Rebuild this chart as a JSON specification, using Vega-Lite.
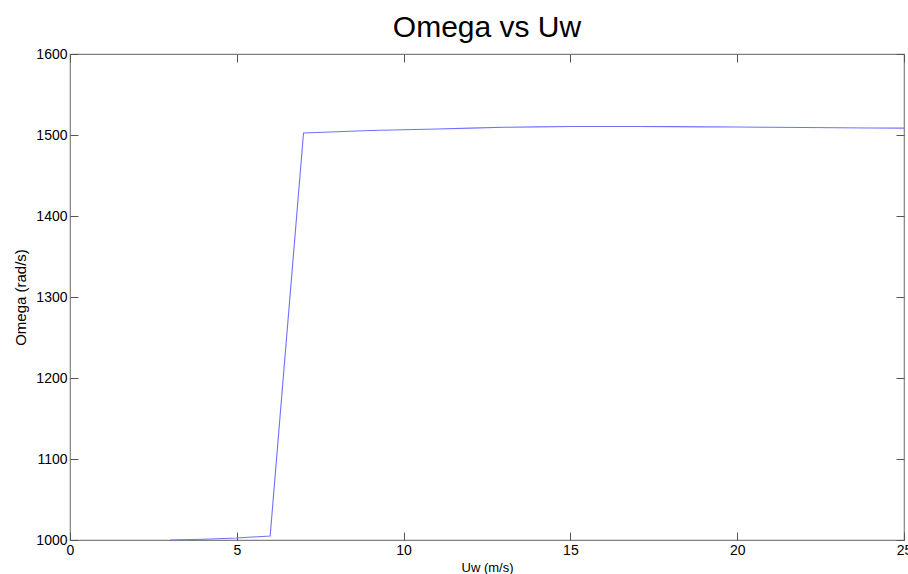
{
  "$schema": "https://vega.github.io/schema/vega-lite/v6.json",
  "width": 834,
  "height": 486,
  "autosize": {"type": "none"},
  "padding": {"left": 70, "top": 54, "right": 4, "bottom": 34},
  "background": "white",
  "title": {
    "text": "Omega vs Uw",
    "fontSize": 30,
    "fontWeight": "normal",
    "font": "Liberation Sans",
    "color": "black",
    "anchor": "middle",
    "frame": "group",
    "baseline": "alphabetic",
    "offset": -20
  },
  "config": {
    "font": "Liberation Sans",
    "view": {"stroke": "#808080", "strokeWidth": 1.2},
    "axis": {
      "grid": false,
      "domain": false,
      "tickSize": -8,
      "tickColor": "#555555",
      "tickWidth": 1,
      "labelFontSize": 14,
      "labelColor": "black",
      "titleFontSize": 13,
      "titleFontWeight": "normal",
      "titleColor": "black",
      "labelFlush": false,
      "labelBound": false,
      "labelOverlap": false,
      "format": "d"
    }
  },
  "data": {
    "values": [
      {"uw": 3, "omega": 1000},
      {"uw": 4, "omega": 1001},
      {"uw": 5, "omega": 1002.5},
      {"uw": 6, "omega": 1005},
      {"uw": 7, "omega": 1502.5},
      {"uw": 8, "omega": 1504},
      {"uw": 9, "omega": 1505.5},
      {"uw": 10, "omega": 1506.5},
      {"uw": 11, "omega": 1507.5},
      {"uw": 12, "omega": 1508.5},
      {"uw": 13, "omega": 1509.5},
      {"uw": 14, "omega": 1510},
      {"uw": 15, "omega": 1510.5},
      {"uw": 16, "omega": 1510.5},
      {"uw": 17, "omega": 1510.5},
      {"uw": 18, "omega": 1510.3},
      {"uw": 19, "omega": 1510},
      {"uw": 20, "omega": 1509.8},
      {"uw": 21, "omega": 1509.5},
      {"uw": 22, "omega": 1509.2},
      {"uw": 23, "omega": 1509},
      {"uw": 24, "omega": 1508.7},
      {"uw": 25, "omega": 1508.5}
    ]
  },
  "layer": [
    {
      "mark": {"type": "line", "color": "#7070ff", "strokeWidth": 1.1},
      "encoding": {
        "x": {
          "field": "uw",
          "type": "quantitative",
          "scale": {"domain": [0, 25], "nice": false, "zero": false},
          "axis": {"orient": "bottom", "values": [0, 5, 10, 15, 20, 25], "labelPadding": 11, "title": "Uw (m/s)", "titlePadding": 4}
        },
        "y": {
          "field": "omega",
          "type": "quantitative",
          "scale": {"domain": [1000, 1600], "nice": false, "zero": false},
          "axis": {"orient": "left", "values": [1000, 1100, 1200, 1300, 1400, 1500, 1600], "labelPadding": 11, "title": "Omega (rad/s)", "titleFontSize": 15, "titlePadding": 7}
        }
      }
    },
    {
      "mark": {"type": "line", "opacity": 0},
      "encoding": {
        "x": {
          "field": "uw",
          "type": "quantitative",
          "axis": {"orient": "top", "values": [0, 5, 10, 15, 20, 25], "labels": false, "title": null}
        },
        "y": {
          "field": "omega",
          "type": "quantitative",
          "axis": {"orient": "right", "values": [1000, 1100, 1200, 1300, 1400, 1500, 1600], "labels": false, "title": null}
        }
      }
    }
  ],
  "resolve": {"axis": {"x": "independent", "y": "independent"}}
}
